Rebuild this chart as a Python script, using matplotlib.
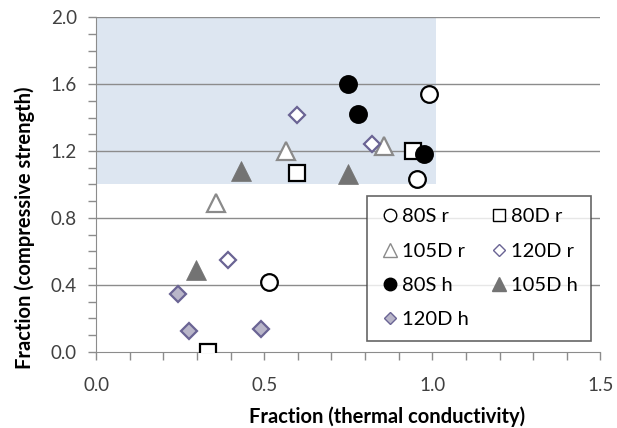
import matplotlib
matplotlib.use("Agg")
import matplotlib.pyplot as plt
from matplotlib.patches import Rectangle
from matplotlib.ticker import MultipleLocator, FormatStrFormatter
from matplotlib.lines import Line2D

plt.rcParams['font.family'] = ['Lato', 'DejaVu Sans']

labels = ["80S r", "80D r", "105D r", "120D r", "80S h", "105D h", "120D h"]
x_80S_r = [0.99, 0.954, 0.514]
y_80S_r = [1.54, 1.03, 0.42]
x_80D_r = [0.942, 0.596, 0.332]
y_80D_r = [1.20, 1.067, 0.0]
x_105D_r = [0.357, 0.566, 0.855]
y_105D_r = [0.89, 1.20, 1.23]
x_120D_r = [0.596, 0.82, 0.392]
y_120D_r = [1.415, 1.24, 0.55]
x_80S_h = [0.75, 0.78, 0.974]
y_80S_h = [1.60, 1.42, 1.18]
x_105D_h = [0.43, 0.75, 0.297]
y_105D_h = [1.08, 1.06, 0.49]
x_120D_h = [0.243, 0.275, 0.49]
y_120D_h = [0.345, 0.127, 0.137]

fig = plt.figure(figsize=(6.17, 4.28), dpi=100)
ax = fig.add_axes([0.156, 0.178, 0.817, 0.782])
ax.set_xlim(0, 1.5)
ax.set_ylim(0, 2.0)

ax.add_patch(Rectangle((0, 1.0), 1.01, 1.0, facecolor='#dde6f1', edgecolor='none', zorder=0))
for yv in [0.4, 0.8, 1.2, 1.6, 2.0]:
    ax.axhline(yv, color='#8c8c8c', lw=1.0, zorder=1)

lw = 1.6
series = [
    (x_80S_r, y_80S_r, dict(marker='o', ms=12, mfc='white', mec='black', mew=lw)),
    (x_80D_r, y_80D_r, dict(marker='s', ms=11, mfc='white', mec='black', mew=lw)),
    (x_105D_r, y_105D_r, dict(marker='^', ms=13, mfc='white', mec='#8a8a8a', mew=lw)),
    (x_120D_r, y_120D_r, dict(marker='D', ms=8.5, mfc='white', mec='#6a6494', mew=lw)),
    (x_80S_h, y_80S_h, dict(marker='o', ms=12, mfc='black', mec='black', mew=lw)),
    (x_105D_h, y_105D_h, dict(marker='^', ms=14, mfc='#737373', mec='#737373', mew=0.5)),
    (x_120D_h, y_120D_h, dict(marker='D', ms=8.5, mfc='#b9b6c9', mec='#6a6494', mew=lw)),
]
for (xs, ys, st), lab in zip(series, labels):
    ax.plot(xs, ys, ls='none', label=lab, zorder=3, **st)

ax.xaxis.set_major_locator(MultipleLocator(0.5))
ax.xaxis.set_minor_locator(MultipleLocator(0.1))
ax.yaxis.set_major_locator(MultipleLocator(0.4))
ax.yaxis.set_minor_locator(MultipleLocator(0.1))
ax.xaxis.set_major_formatter(FormatStrFormatter('%.1f'))
ax.yaxis.set_major_formatter(FormatStrFormatter('%.1f'))
ax.tick_params(axis='both', which='both', color='#8c8c8c', direction='out', length=6, width=1)
ax.tick_params(axis='both', which='major', labelsize=13.5, labelcolor='#404040')
ax.tick_params(axis='x', which='major', pad=12)
ax.tick_params(axis='y', which='major', pad=8)
for s in ['top', 'right']:
    ax.spines[s].set_visible(False)
for s in ['left', 'bottom']:
    ax.spines[s].set_color('#8c8c8c')

ax.set_xlabel('Fraction (thermal conductivity)', fontsize=14.5, fontweight='bold')
ax.set_ylabel('Fraction (compressive strength)', fontsize=14.5, fontweight='bold')
ax.xaxis.set_label_coords(0.577, -0.164)
ax.yaxis.set_label_coords(-0.121, 0.37)

order = [0, 2, 4, 6, 1, 3, 5]
leg_handles = []
for i in order:
    st = dict(series[i][2])
    st['ms'] = st['ms'] * 0.75
    st['mew'] = 1.0
    leg_handles.append(Line2D([], [], ls='none', **st))
leg = ax.legend(leg_handles, [labels[i] for i in order], ncol=2, loc='upper left',
                bbox_to_anchor=(0.538, 0.466), borderaxespad=0, frameon=True, fancybox=False,
                edgecolor='#404040', fontsize=14.5, handletextpad=0.1, columnspacing=1.0,
                labelspacing=0.85, borderpad=0.62, handlelength=1.0)
leg.get_frame().set_linewidth(1.2)
leg.set_zorder(5)

fig.savefig('out.png', dpi=100)
